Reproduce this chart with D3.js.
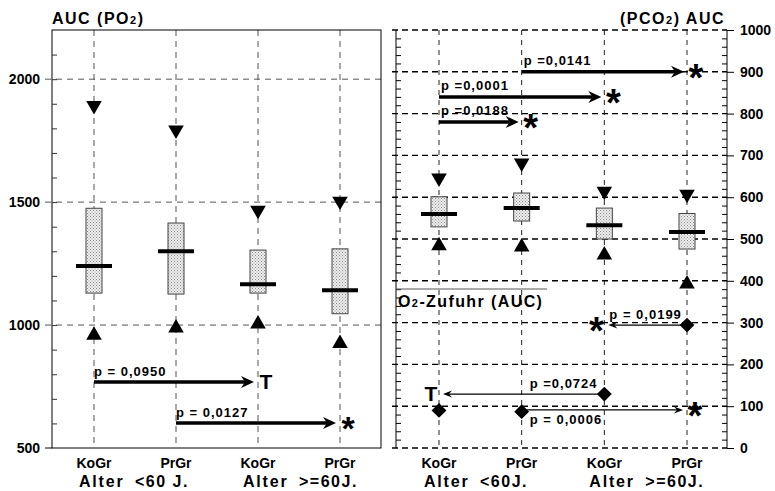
<!DOCTYPE html>
<html>
<head>
<meta charset="utf-8">
<script src="https://cdn.jsdelivr.net/npm/d3@7"></script>
<style>
  body { margin: 0; background: #fff; }
  svg text { font-family: "Liberation Sans", Arial, sans-serif; font-weight: bold; fill: #000; }
</style>
</head>
<body>
<script>
// groups (same order in both panels)
const groups = ["KoGr", "PrGr", "KoGr", "PrGr"];
const ageLabelsLeft = ["Alter  <60 J.", "Alter  >=60J."];
const ageLabelsRight = ["Alter  <60J.", "Alter  >=60J."];

// left panel: AUC (PO2)
const po2Max = [1893, 1793, 1467, 1504];
const po2Q3 = [1475, 1415, 1305, 1310];
const po2Median = [1240, 1300, 1166, 1142];
const po2Q1 = [1130, 1126, 1130, 1046];
const po2Min = [963, 992, 1008, 929];
const po2Ticks = [500, 1000, 1500, 2000];

// right panel: (PCO2) AUC
const pco2Max = [646, 682, 614, 607];
const pco2Q3 = [601, 610, 574, 561];
const pco2Median = [560, 574, 533, 517];
const pco2Q1 = [529, 543, 500, 476];
const pco2Min = [486, 483, 464, 395];
const pco2Ticks = [0, 100, 200, 300, 400, 500, 600, 700, 800, 900, 1000];

// right panel: O2-Zufuhr (AUC)
const o2Supply = [90, 87, 129, 294];

// significance arrows: from group index -> to group index at a value
const po2Tests = [
  { from: 0, to: 2, value: 768, p: "p = 0,0950", mark: "T" },
  { from: 1, to: 3, value: 602, p: "p = 0,0127", mark: "*" }
];
const pco2Tests = [
  { from: 1, to: 3, value: 900, p: "p =0,0141", mark: "*" },
  { from: 0, to: 2, value: 840, p: "p =0,0001", mark: "*" },
  { from: 0, to: 1, value: 780, p: "p =0,0188", mark: "*" }
];
const o2Tests = [
  { from: 3, to: 2, value: 294, p: "p = 0,0199", mark: "*" },
  { from: 2, to: 0, value: 129, p: "p =0,0724", mark: "T" },
  { from: 1, to: 3, value: 91, p: "p = 0,0006", mark: "*" }
];

const W = 775, H = 491;
const svg = d3.select("body").append("svg").attr("width", W).attr("height", H);

// stipple fill for the boxes
const pat = svg.append("defs").append("pattern")
  .attr("id", "stip").attr("width", 3).attr("height", 3)
  .attr("patternUnits", "userSpaceOnUse");
pat.append("rect").attr("width", 3).attr("height", 3).attr("fill", "#eee");
pat.append("rect").attr("x", 0).attr("y", 0).attr("width", 1).attr("height", 1).attr("fill", "#888");
pat.append("rect").attr("x", 1.5).attr("y", 1.5).attr("width", 1).attr("height", 1).attr("fill", "#999");

const idx = d3.range(groups.length);

// ---------- scales ----------
const xL = d3.scalePoint().domain(idx).range([94, 340]);
const yL = d3.scaleLinear().domain([500, 2200]).range([448, 30]);
const xR = d3.scalePoint().domain(idx).range([439, 687]);
const yR = d3.scaleLinear().domain([0, 1000]).range([448, 30]);

function arrow(g, x1, x2, y, thick) {
  const dir = x2 > x1 ? 1 : -1;
  const len = thick ? 13 : 9, hw = thick ? 6 : 3.5, notch = thick ? 9 : 6;
  g.append("line")
    .attr("x1", x1).attr("x2", x2 - dir * notch).attr("y1", y).attr("y2", y)
    .attr("stroke", "#000").attr("stroke-width", thick ? 3.5 : 1.2);
  g.append("path")
    .attr("d", `M${x2},${y}L${x2 - dir * len},${y - hw}L${x2 - dir * notch},${y}L${x2 - dir * len},${y + hw}Z`)
    .attr("fill", "#000");
}

function mark(g, sym, tip, y, dir, big) {
  if (sym === "T") {
    g.append("text").attr("x", tip + dir * 12).attr("y", y + 7)
      .attr("text-anchor", "middle").style("font-size", "21px").text("T");
  } else {
    const fs = big ? 38 : 34;
    g.append("text").attr("x", tip + dir * 12).attr("y", y + fs * 0.5)
      .attr("text-anchor", "middle").style("font-size", fs + "px").text("*");
  }
}

function pLabel(g, x, y, s) {
  g.append("text").attr("x", x).attr("y", y)
    .style("font-size", "13px").style("letter-spacing", "1px").text(s);
}

function boxes(g, x, y, mx, q3, med, q1, mn) {
  const bw = 16, mw = 36;
  idx.forEach(i => {
    const cx = x(i);
    g.append("rect")
      .attr("x", cx - bw / 2).attr("y", y(q3[i]))
      .attr("width", bw).attr("height", y(q1[i]) - y(q3[i]))
      .attr("fill", "url(#stip)").attr("stroke", "#444").attr("stroke-width", 1);
    g.append("line")
      .attr("x1", cx - mw / 2).attr("x2", cx + mw / 2)
      .attr("y1", y(med[i])).attr("y2", y(med[i]))
      .attr("stroke", "#000").attr("stroke-width", 4);
    g.append("path")
      .attr("d", d3.symbol(d3.symbolTriangle, 105)())
      .attr("transform", `translate(${cx},${y(mx[i])}) rotate(180)`);
    g.append("path")
      .attr("d", d3.symbol(d3.symbolTriangle, 105)())
      .attr("transform", `translate(${cx},${y(mn[i]) + 1})`);
  });
}

// ================= LEFT PANEL =================
const gl = svg.append("g");
gl.selectAll(".vg").data(idx).enter().append("line")
  .attr("x1", d => xL(d)).attr("x2", d => xL(d))
  .attr("y1", yL(2200)).attr("y2", yL(500))
  .attr("stroke", "#555").attr("stroke-dasharray", "6,5");
gl.selectAll(".hg").data(po2Ticks.slice(1)).enter().append("line")
  .attr("x1", 45).attr("x2", 381)
  .attr("y1", d => yL(d)).attr("y2", d => yL(d))
  .attr("stroke", "#555").attr("stroke-dasharray", "6,5");
gl.append("rect").attr("x", 52).attr("y", yL(2200))
  .attr("width", 381 - 52).attr("height", yL(500) - yL(2200))
  .attr("fill", "none").attr("stroke", "#000").attr("stroke-width", 1);
const axL = d3.axisLeft(yL).tickValues(d3.range(600, 2200, 100)).tickSize(-5).tickFormat("");
gl.append("g").attr("transform", "translate(52,0)").call(axL)
  .call(a => a.select(".domain").remove())
  .call(a => a.selectAll("line").attr("stroke", "#333"));
gl.append("line").attr("x1", 45).attr("x2", 52).attr("y1", yL(500)).attr("y2", yL(500)).attr("stroke", "#000");
gl.selectAll(".tl").data(po2Ticks).enter().append("text")
  .attr("x", 40).attr("y", d => yL(d) + 5)
  .attr("text-anchor", "end").style("font-size", "14px").text(d => d);

boxes(gl, xL, yL, po2Max, po2Q3, po2Median, po2Q1, po2Min);

po2Tests.forEach(t => {
  const x1 = xL(t.from), tip = xL(t.to) - 4, y = yL(t.value);
  arrow(gl, x1, tip, y, true);
  pLabel(gl, x1, y - 6, t.p);
  mark(gl, t.mark, tip, y, 1, false);
});

const lt = gl.append("text").attr("x", 52).attr("y", 24)
  .style("font-size", "16px").style("letter-spacing", "1.5px");
lt.append("tspan").text("AUC (PO");
lt.append("tspan").style("font-size", "11px").text("2");
lt.append("tspan").text(")");

// ================= RIGHT PANEL =================
const gr = svg.append("g");
gr.selectAll(".vg").data(idx).enter().append("line")
  .attr("x1", d => xR(d)).attr("x2", d => xR(d))
  .attr("y1", yR(1000)).attr("y2", yR(0))
  .attr("stroke", "#222").attr("stroke-dasharray", "5,5");
gr.selectAll(".hg").data(pco2Ticks).enter().append("line")
  .attr("x1", 392).attr("x2", 727)
  .attr("y1", d => yR(d)).attr("y2", d => yR(d))
  .attr("stroke", "#000").attr("stroke-width", 1.4).attr("stroke-dasharray", "6,4");
gr.append("line").attr("x1", 396).attr("x2", 396).attr("y1", yR(1000)).attr("y2", yR(0)).attr("stroke", "#000");
gr.append("line").attr("x1", 727).attr("x2", 727).attr("y1", yR(1000)).attr("y2", yR(0)).attr("stroke", "#000");
const minorR = d3.range(20, 1000, 20).filter(v => v % 100 !== 0);
gr.append("g").attr("transform", "translate(396,0)")
  .call(d3.axisLeft(yR).tickValues(minorR).tickSize(-5).tickFormat(""))
  .call(a => a.select(".domain").remove());
gr.append("g").attr("transform", "translate(727,0)")
  .call(d3.axisRight(yR).tickValues(minorR).tickSize(-5).tickFormat(""))
  .call(a => a.select(".domain").remove());
gr.append("g").attr("transform", "translate(727,0)")
  .call(d3.axisRight(yR).tickValues(pco2Ticks).tickSize(7).tickPadding(6).tickFormat(d3.format("d")))
  .call(a => a.select(".domain").remove())
  .call(a => a.selectAll("text").style("font-size", "14px")
    .style("font-family", '"Liberation Sans", Arial, sans-serif').style("font-weight", "bold"));

boxes(gr, xR, yR, pco2Max, pco2Q3, pco2Median, pco2Q1, pco2Min);

pco2Tests.forEach(t => {
  const x1 = xR(t.from), tip = xR(t.to) - 3, y = yR(t.value);
  arrow(gr, x1, tip, y, true);
  pLabel(gr, x1 + 2, y - 7, t.p);
  mark(gr, t.mark, tip, y, 1, true);
});

// O2-Zufuhr subpanel
gr.append("line").attr("x1", 396).attr("x2", 547).attr("y1", 289).attr("y2", 289)
  .attr("stroke", "#555").attr("stroke-width", 1);
const o2t = gr.append("text").attr("x", 398).attr("y", 307)
  .style("font-size", "16px").style("letter-spacing", "1.4px");
o2t.append("tspan").text("O");
o2t.append("tspan").style("font-size", "11px").text("2");
o2t.append("tspan").text("-Zufuhr (AUC)");

o2Tests.forEach((t, k) => {
  const dir = t.to > t.from ? 1 : -1;
  const tip = xR(t.to) - dir * 4, y = yR(t.value);
  arrow(gr, xR(t.from), tip, y, false);
  // first label starts at its arrow tip, the others next to the PrGr line
  const lx = k === 0 ? tip + 1 : xR(1) + 8;
  pLabel(gr, lx, k === 2 ? y + 14 : y - 6, t.p);
  mark(gr, t.mark, tip, y, dir, true);
});
gr.selectAll(".dm").data(idx).enter().append("path")
  .attr("d", d3.symbol(d3.symbolSquare, 110)())
  .attr("transform", d => `translate(${xR(d)},${yR(o2Supply[d])}) rotate(45)`);

const rt = gr.append("text").attr("x", 725).attr("y", 24).attr("text-anchor", "end")
  .style("font-size", "16px").style("letter-spacing", "1.5px");
rt.append("tspan").text("(PCO");
rt.append("tspan").style("font-size", "11px").text("2");
rt.append("tspan").text(") AUC");

// ---------- category labels ----------
[[xL, ageLabelsLeft], [xR, ageLabelsRight]].forEach(([x, labels]) => {
  svg.append("g").selectAll("text").data(idx).enter().append("text")
    .attr("x", d => x(d)).attr("y", 468).attr("text-anchor", "middle")
    .style("font-size", "14px").text(d => groups[d]);
  labels.forEach((s, a) => {
    const parts = s.split(/\s{2,}/);
    svg.append("text").attr("x", x(2 * a) - 15).attr("y", 487)
      .style("font-size", "16px").style("letter-spacing", "1.8px").text(parts[0]);
    svg.append("text").attr("x", x(2 * a) + 41).attr("y", 487)
      .style("font-size", "16px").style("letter-spacing", "1.5px").text(parts[1]);
  });
});
</script>
</body>
</html>
